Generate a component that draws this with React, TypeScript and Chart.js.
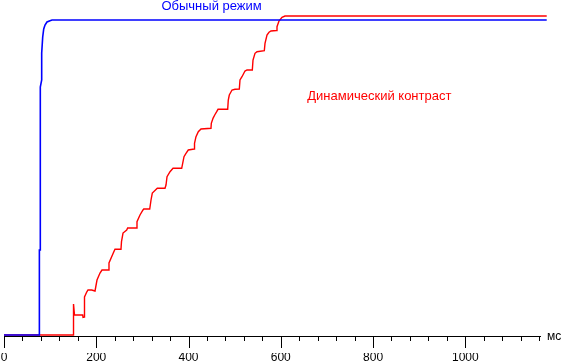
import React, { useEffect, useRef } from "react";
import { Chart, registerables } from "chart.js";

Chart.register(...registerables);

// Time (ms) and relative brightness (% of normal-mode level)
const blueMs = [0, 76.5, 76.7, 78.7, 78.7, 81.7, 81.7, 83.9, 86.1, 88.9, 93.2, 99.7, 104.1, 1176.5];
const blueLevel = [0, 0, 26.98, 26.98, 78.73, 80.95, 89.52, 94.6, 97.14, 98.41, 99.37, 99.78, 100, 100];

const redMs = [
  0, 150.2, 150.7, 152.8, 170.6, 171.3, 174.1, 174.5, 179.3, 182.1, 190.1, 197.3,
  201.6, 208.1, 212.4, 226.1, 227.6, 236.9, 240.6, 253.6, 254.7, 258.0, 266.0, 268.0,
  287.7, 288.3, 294.8, 301.3, 303.0, 315.9, 318.7, 321.5, 332.3, 349.0, 351.2, 353.4,
  359.9, 366.4, 385.2, 390.2, 394.5, 399.5, 412.5, 413.0, 416.2, 421.2, 427.1, 448.7,
  449.4, 453.1, 456.8, 461.1, 464.0, 484.9, 486.2, 488.4, 494.3, 500.8, 510.1, 511.6,
  515.9, 522.4, 526.8, 538.3, 539.8, 544.1, 548.5, 564.3, 565.8, 570.1, 574.5, 578.8,
  590.7, 591.8, 596.1, 602.6, 609.1, 1176.5,
];
const redLevel = [
  0, 0, 9.84, 6.35, 6.35, 5.62, 5.71, 12.06, 13.65, 14.29, 14.29, 13.97,
  17.46, 19.68, 20.63, 20.63, 22.86, 26.03, 27.21, 27.21, 29.62, 32.38, 33.33, 33.97,
  33.97, 35.97, 38.1, 39.68, 40.0, 40.0, 42.86, 45.08, 46.57, 46.57, 47.62, 50.25,
  51.84, 52.92, 52.92, 56.6, 57.68, 58.73, 59.05, 60.86, 62.95, 64.54, 65.4, 65.62,
  67.21, 68.79, 69.84, 70.89, 71.65, 71.65, 74.6, 76.19, 77.78, 78.0, 78.1, 80.95,
  82.0, 83.81, 84.13, 84.13, 87.3, 89.43, 89.94, 90.25, 92.6, 95.24, 96.1, 96.51,
  96.67, 97.87, 99.68, 100.86, 101.27, 101.27,
];

const xTickLabels = [0, 200, 400, 600, 800, 1000];
const minorStep = 40;
const axisEnd = 1165;
const unitLabel = "мс";
const blueName = "Обычный режим";
const redName = "Динамический контраст";

const FONT = '"Liberation Sans", Arial, sans-serif';

const axisPlugin = {
  id: "msAxis",
  afterDraw(chart: any) {
    const ctx = chart.ctx;
    const xs = chart.scales.x;
    const ys = chart.scales.y;
    const y0 = Math.round(ys.getPixelForValue(0));
    const xStart = Math.round(xs.getPixelForValue(0));
    const xEnd = Math.round(xs.getPixelForValue(axisEnd));
    ctx.save();
    ctx.fillStyle = "#000";
    ctx.fillRect(xStart, y0 + 1, xEnd - xStart, 1);
    for (let v = 0; v <= axisEnd; v += minorStep) {
      const px = Math.round(xs.getPixelForValue(v));
      const major = xTickLabels.includes(v);
      ctx.fillRect(px, y0 + 2, 1, major ? 11 : 4);
    }
    ctx.font = `12px ${FONT}`;
    ctx.textBaseline = "middle";
    ctx.textAlign = "left";
    ctx.fillText(unitLabel, xs.getPixelForValue(1177), y0 + 1.5);

    ctx.font = `13px ${FONT}`;
    ctx.textBaseline = "alphabetic";
    ctx.textAlign = "center";
    ctx.fillStyle = "#0000ff";
    ctx.fillText(blueName, xs.getPixelForValue(450), ys.getPixelForValue(103.3));
    ctx.textAlign = "left";
    ctx.fillStyle = "#ff0000";
    ctx.fillText(redName, xs.getPixelForValue(657.5), ys.getPixelForValue(74.6));
    ctx.restore();
  },
};

export default function App() {
  const ref = useRef<HTMLCanvasElement | null>(null);
  useEffect(() => {
    document.body.style.margin = "0";
    const canvas = ref.current;
    if (!canvas) return;
    const chart = new Chart(canvas, {
      type: "line",
      data: {
        datasets: [
          {
            label: blueName,
            data: blueMs.map((x, i) => ({ x, y: blueLevel[i] })),
            borderColor: "#0000ff",
            borderWidth: 1.6,
            pointRadius: 0,
            tension: 0,
            order: 1,
          },
          {
            label: redName,
            data: redMs.map((x, i) => ({ x, y: redLevel[i] })),
            borderColor: "#ff0000",
            borderWidth: 1.4,
            pointRadius: 0,
            tension: 0,
            order: 2,
          },
        ],
      },
      options: {
        animation: false,
        responsive: false,
        devicePixelRatio: 1,
        layout: { padding: { left: 4, right: 0, top: 0, bottom: 0 } },
        plugins: { legend: { display: false }, tooltip: { enabled: false } },
        scales: {
          x: {
            type: "linear",
            min: 0,
            max: 1224.8,
            grid: { display: false, drawTicks: false },
            border: { display: false },
            afterBuildTicks: (scale: any) => {
              scale.ticks = xTickLabels.map((v) => ({ value: v }));
            },
            ticks: {
              autoSkip: false,
              maxRotation: 0,
              padding: -1.5,
              color: "#000",
              font: { family: FONT, size: 12, lineHeight: 1 },
              callback: (v: any) => String(v),
            },
          },
          y: {
            display: false,
            min: -5.714,
            max: 106.35,
          },
        },
      },
      plugins: [axisPlugin],
    });
    return () => chart.destroy();
  }, []);
  return (
    <div style={{ width: 569, height: 362 }}>
      <canvas ref={ref} width={569} height={362} style={{ display: "block" }} />
    </div>
  );
}
